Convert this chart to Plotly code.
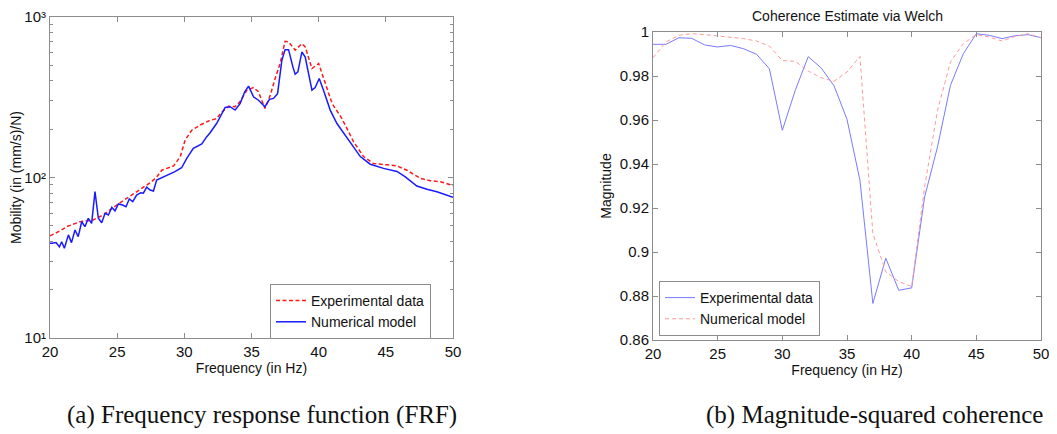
import plotly.graph_objects as go

# ---------------- Data: (a) FRF ----------------
frf_num_freq = [20.0, 20.13, 20.45, 20.7, 20.87, 21.07, 21.37, 21.6, 21.86, 22.1, 22.36, 22.6, 22.85,
                23.1, 23.35, 23.6, 23.85, 24.1, 24.35, 24.6, 24.84, 25.09, 25.41, 25.66, 25.9, 26.16,
                26.45, 26.75, 26.95, 27.2, 27.45, 27.7, 27.94, 28.32, 28.81, 29.3, 29.8, 30.18, 30.67,
                30.92, 31.3, 31.67, 31.92, 32.4, 33.04, 33.4, 33.78, 34.15, 34.5, 34.78, 35.15, 35.52,
                36.0, 36.34, 36.64, 36.94, 37.26, 37.5, 37.76, 38.08, 38.25, 38.45, 38.75, 39.0, 39.5,
                39.74, 40.04, 40.36, 40.86, 41.36, 41.85, 42.35, 43.1, 43.84, 44.83, 45.83, 46.45,
                47.31, 48.06, 48.8, 50.0]
frf_num_val = [39.0, 38.9, 39.3, 37.0, 39.8, 36.2, 43.9, 39.3, 47.1, 42.8, 53.0, 49.4, 55.7,
               51.8, 81.7, 55.7, 52.3, 59.8, 58.4, 65.2, 62.0, 68.4, 67.4, 65.8, 73.5, 70.7,
               77.8, 80.4, 79.8, 87.0, 83.6, 82.4, 96.4, 99.7, 104.7, 108.7, 115, 131.7, 152,
               155.7, 161.8, 179.6, 190, 217, 273, 276, 263, 289, 342, 371, 318, 303,
               276, 307, 311, 333, 537, 626, 626, 489, 440, 455, 605, 563, 350,
               363, 414, 350, 263, 217, 190, 163, 135, 121, 114, 109, 101,
               88.5, 84.4, 81.6, 75.3]

frf_exp_freq = [20.0, 20.75, 21.24, 22.23, 23.2, 23.97, 24.97, 26.2, 27.08, 27.57, 27.95, 28.32,
                29.2, 29.7, 30.06, 30.55, 31.17, 31.8, 32.4, 32.8, 33.3, 33.78, 34.15, 34.65, 35.15,
                35.52, 36.0, 36.4, 36.76, 37.13, 37.5, 37.76, 38.25, 38.75, 39.0, 39.5, 40.0, 40.5,
                41.0, 41.73, 42.6, 43.34, 44.09, 45.08, 45.83, 46.57, 47.56, 48.3, 49.05, 50.0]
frf_exp_val = [43.3, 46.5, 49.4, 53.0, 54.4, 58.5, 67.4, 78.9, 87.7, 94.2, 101, 111,
               118, 135, 171, 197, 212, 225, 233, 256, 278, 276, 297, 350, 363,
               342, 269, 326, 414, 513, 706, 700, 621, 682, 651, 477, 513, 385,
               289, 233, 167, 135, 122, 120, 118, 111, 98.8, 95.5, 94.2, 89]

# ---------------- Data: (b) coherence ----------------
coh_freq = list(range(20, 51))
coh_exp = [0.9944, 0.9944, 0.9974, 0.9971, 0.9941, 0.9932, 0.9939, 0.9924, 0.9899, 0.9833,
           0.9553, 0.9735, 0.9888, 0.9837, 0.9755, 0.9603, 0.9326, 0.8766, 0.8972, 0.8826,
           0.8837, 0.9250, 0.9478, 0.9758, 0.9902, 0.9992, 0.9985, 0.9970, 0.9983, 0.9988, 0.9974]
coh_num = [0.9883, 0.9955, 0.9985, 0.9992, 0.9988, 0.9983, 0.9977, 0.9970, 0.9959, 0.9936,
           0.9870, 0.9867, 0.9823, 0.9792, 0.9776, 0.9818, 0.9889, 0.9084, 0.8910, 0.8866,
           0.8843, 0.9296, 0.9644, 0.9864, 0.9947, 0.9988, 0.9977, 0.9959, 0.9980, 0.9992, 0.9974]

x_ticks = [20, 25, 30, 35, 40, 45, 50]
frf_major = [10, 100, 1000]
frf_major_text = ["10\u00b9", "10\u00b2", "10\u00b3"]
frf_minor = [20, 30, 40, 50, 60, 70, 80, 90, 200, 300, 400, 500, 600, 700, 800, 900]
coh_ticks = [0.86, 0.88, 0.9, 0.92, 0.94, 0.96, 0.98, 1.0]
coh_ticktext = ["0.86", "0.88", "0.9", "0.92", "0.94", "0.96", "0.98", "1"]

W, H = 1057, 434
OFF = 8  # page body margin offsets the figure inside the browser window
AX = "#8c8c8c"
SANS = "Liberation Sans, Arial, sans-serif"
SERIF = "Liberation Serif, serif"

fig = go.Figure()

fig.add_trace(go.Scatter(x=frf_exp_freq, y=frf_exp_val, mode="lines", name="Experimental data",
                         line=dict(color="#ff1a1a", width=1.5, dash="4px,2.5px"),
                         xaxis="x", yaxis="y", legend="legend"))
fig.add_trace(go.Scatter(x=frf_num_freq, y=frf_num_val, mode="lines", name="Numerical model",
                         line=dict(color="#1a1aff", width=1.5),
                         xaxis="x", yaxis="y", legend="legend"))

fig.add_trace(go.Scatter(x=coh_freq, y=coh_exp, mode="lines", name="Experimental data",
                         line=dict(color="#7a7aff", width=1),
                         xaxis="x2", yaxis="y2", legend="legend2"))
fig.add_trace(go.Scatter(x=coh_freq, y=coh_num, mode="lines", name="Numerical model",
                         line=dict(color="#ff9a9a", width=1, dash="4px,3px"),
                         xaxis="x2", yaxis="y2", legend="legend2"))

def px_x(p):
    return (p - OFF) / W

def px_y(p):
    return 1 - (p - OFF) / H

common = dict(showline=True, linecolor=AX, linewidth=1, mirror="ticks", ticks="inside",
              tickcolor=AX, ticklen=5, showgrid=False, zeroline=False, automargin=False,
              ticklabeloverflow="allow",
              tickfont=dict(family=SANS, size=15, color="#111"))

fig.update_layout(
    width=W, height=H,
    margin=dict(l=0, r=0, t=0, b=0),
    paper_bgcolor="white", plot_bgcolor="white",
    font=dict(family=SANS, size=14, color="#111"),
    xaxis=dict(domain=[px_x(50), px_x(453)], range=[20, 50], tickvals=x_ticks, anchor="y",
               title=dict(text="Frequency (in Hz)", standoff=0, font=dict(size=14)), **common),
    yaxis=dict(domain=[px_y(338), px_y(17)], type="log", range=[1, 3], anchor="x",
               tickvals=frf_major, ticktext=frf_major_text,
               minor=dict(tickvals=frf_minor, ticks="inside", ticklen=3, tickcolor=AX, showgrid=False),
               title=dict(text="Mobility (in (mm/s)/N)", standoff=4, font=dict(size=14)), **common),
    xaxis2=dict(domain=[px_x(653), px_x(1041)], range=[20, 50], tickvals=x_ticks, anchor="y2",
                title=dict(text="Frequency (in Hz)", standoff=0, font=dict(size=14)), **common),
    yaxis2=dict(domain=[px_y(340), px_y(32)], range=[0.86, 1.0], anchor="x2",
                tickvals=coh_ticks, ticktext=coh_ticktext,
                title=dict(text="Magnitude", standoff=4, font=dict(size=14)), **common),
    legend=dict(x=px_x(270), y=px_y(284), xanchor="left", yanchor="top",
                bordercolor=AX, borderwidth=1, bgcolor="white",
                font=dict(family=SANS, size=14, color="#111"), itemwidth=30,
                tracegroupgap=0),
    legend2=dict(x=px_x(659), y=px_y(281), xanchor="left", yanchor="top",
                 bordercolor=AX, borderwidth=1, bgcolor="white",
                 font=dict(family=SANS, size=14, color="#111"), itemwidth=30,
                 tracegroupgap=0),
    showlegend=True,
)

fig.add_annotation(text="Coherence Estimate via Welch", xref="paper", yref="paper",
                   x=px_x(847), y=px_y(16), xanchor="center", yanchor="middle",
                   showarrow=False, font=dict(family=SANS, size=14, color="#111"))
fig.add_annotation(text="(a) Frequency response function (FRF)", xref="paper", yref="paper",
                   x=px_x(262), y=px_y(415), xanchor="center", yanchor="middle",
                   showarrow=False, font=dict(family=SERIF, size=25, color="#111"))
fig.add_annotation(text="(b) Magnitude-squared coherence", xref="paper", yref="paper",
                   x=px_x(874), y=px_y(415), xanchor="center", yanchor="middle",
                   showarrow=False, font=dict(family=SERIF, size=25, color="#111"))

fig.write_html("out.html")
